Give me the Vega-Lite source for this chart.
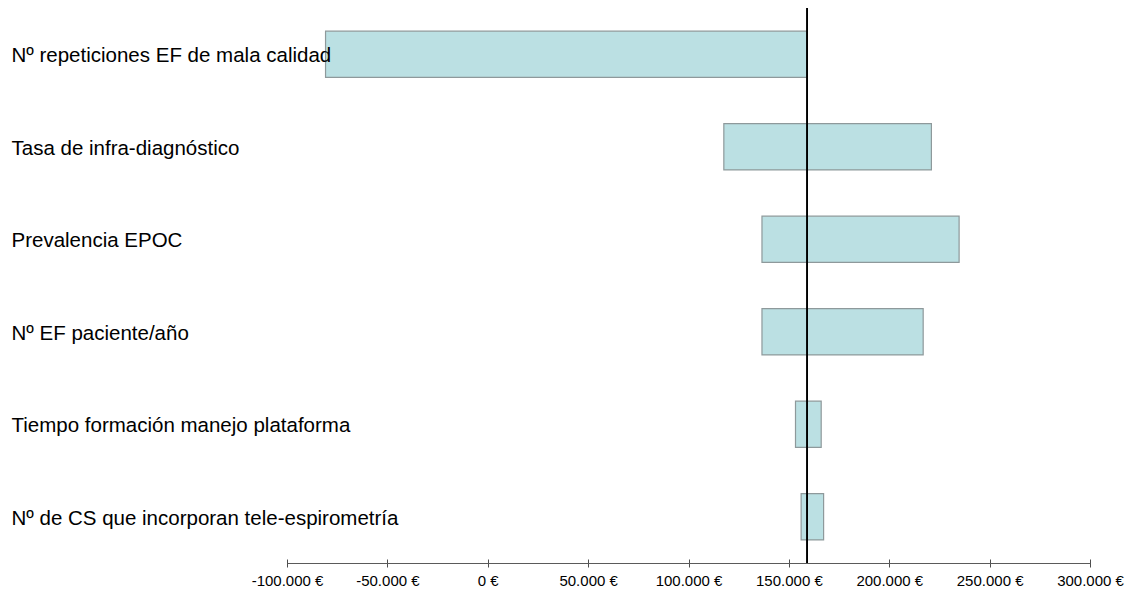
{
  "$schema": "https://vega.github.io/schema/vega-lite/v6.json",
  "width": 803,
  "height": 555,
  "autosize": "none",
  "padding": {"left": 287, "top": 8, "right": 48, "bottom": 34},
  "background": "white",
  "config": {
    "view": {"stroke": null},
    "font": "Liberation Sans",
    "locale": {
      "number": {"decimal": ",", "thousands": ".", "grouping": [3], "currency": ["", " €"], "minus": "-"}
    }
  },
  "data": {
    "values": [
      {"parametro": "Nº repeticiones EF de mala calidad", "bajo": -80800, "alto": 159100},
      {"parametro": "Tasa de infra-diagnóstico", "bajo": 117600, "alto": 221000},
      {"parametro": "Prevalencia EPOC", "bajo": 136600, "alto": 234800},
      {"parametro": "Nº EF paciente/año", "bajo": 136600, "alto": 216900},
      {"parametro": "Tiempo formación manejo plataforma", "bajo": 153300, "alto": 166100},
      {"parametro": "Nº de CS que incorporan tele-espirometría", "bajo": 156100, "alto": 167300}
    ]
  },
  "resolve": {"axis": {"x": "independent"}},
  "layer": [
    {
      "mark": {"type": "bar", "fill": "#bbe0e3", "stroke": "#8e999b", "strokeWidth": 1.2},
      "encoding": {
        "y": {
          "field": "parametro", "type": "nominal", "sort": null,
          "scale": {"paddingInner": 0.5, "paddingOuter": 0.25},
          "axis": {
            "title": null, "domain": false, "ticks": false, "tickSize": 0,
            "labelAlign": "left", "labelPadding": 276, "labelBaseline": "alphabetic",
            "labelOffset": 8, "labelFontSize": 20.5, "labelColor": "#000000",
            "labelLimit": 0, "grid": false, "zindex": 1
          }
        },
        "x": {
          "field": "bajo", "type": "quantitative",
          "scale": {"domain": [-100000, 300000], "nice": false, "zero": false},
          "axis": {
            "orient": "bottom",
            "title": null, "grid": false, "domain": false,
            "values": [-100000, -50000, 0, 50000, 100000, 150000, 200000, 250000, 300000],
            "format": "$,.0f", "offset": -4, "tickSize": 8, "tickColor": "#4d4d4d",
            "labelPadding": 6, "labelFontSize": 15, "labelColor": "#000000",
            "labelFlush": false, "labelOverlap": false
          }
        },
        "x2": {"field": "alto"}
      }
    },
    {
      "mark": {"type": "rule", "color": "#000000", "strokeWidth": 1},
      "encoding": {
        "x": {
          "datum": 159100, "type": "quantitative",
          "axis": {
            "orient": "bottom",
            "title": null, "grid": false, "domain": true, "domainColor": "#5a5a5a",
            "domainWidth": 1.2, "ticks": false, "labels": false
          }
        }
      }
    }
  ]
}
